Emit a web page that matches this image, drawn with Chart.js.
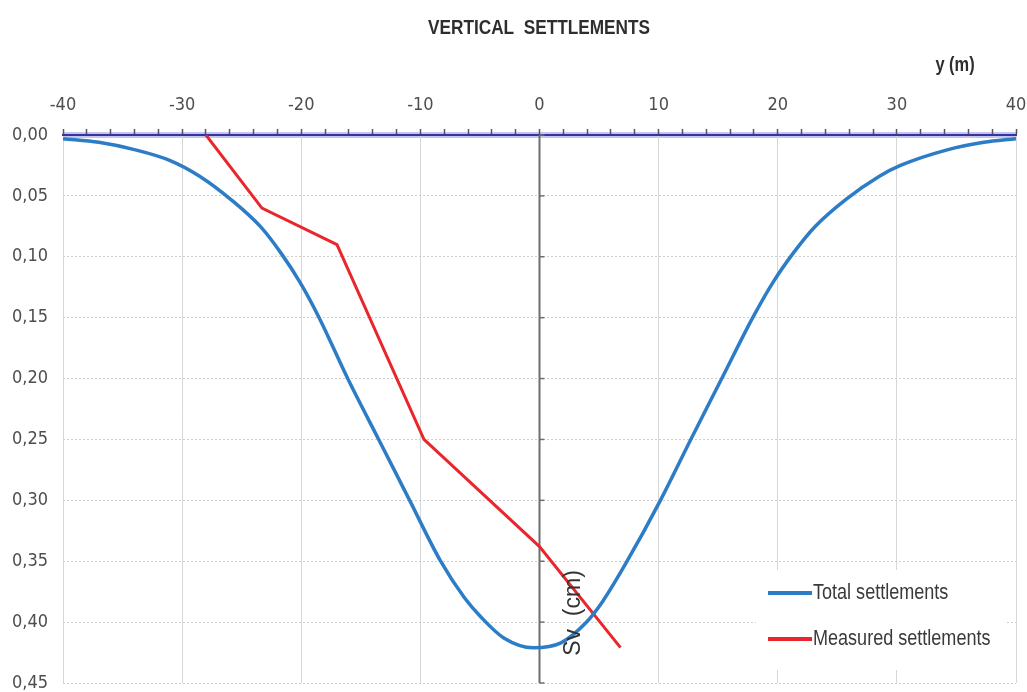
<!DOCTYPE html>
<html>
<head>
<meta charset="utf-8">
<script src="https://cdn.jsdelivr.net/npm/chart.js@4.4.0/dist/chart.umd.min.js"></script>
<style>
  html, body { margin: 0; padding: 0; background: #fff; }
  #caixa { width: 1027px; height: 692px; }
</style>
</head>
<body>
<div id="caixa"><canvas id="graficoRecalques" width="1027" height="692"></canvas></div>
<script>
// distancia ao eixo (m) e recalque calculado (cm)
const totalX = [-40, -37, -34, -31, -28.5, -25.9, -23.4, -21.7, -20.1, -18.5, -16.1, -13.5, -10.9, -8.3, -6.3, -4.9, -3, -0.5,
  1.8, 3.85, 5.3, 7.35, 10.15, 12.7, 15.3, 17.9, 19.6, 21.3, 23.1, 25.7, 28.5, 30.3, 34.3, 37.3, 40];
const totalSv = [0.003, 0.006, 0.012, 0.021, 0.034, 0.053, 0.0755, 0.097, 0.121, 0.15, 0.20, 0.25, 0.30, 0.35, 0.38, 0.396, 0.413, 0.421,
  0.417, 0.401, 0.383, 0.35, 0.30, 0.25, 0.20, 0.15, 0.121, 0.097, 0.0755, 0.053, 0.034, 0.025, 0.012, 0.006, 0.003];

// recalques medidos em campo
const medidoX = [-28, -23.3, -17, -9.7, 0, 6.8];
const medidoSv = [0, 0.06, 0.09, 0.25, 0.338, 0.421];

const nomesSeries = ['Total settlements', 'Measured settlements'];
const coresSeries = ['#2c7cc6', '#ea262c'];

const titulo = 'VERTICAL  SETTLEMENTS';
const tituloEixoX = 'y (m)';
const tituloEixoY = 'Sv  (cm)';

const fonteTicks = "'DejaVu Sans Condensed', 'Liberation Sans', sans-serif";
const fonteNormal = "'Liberation Sans', Arial, sans-serif";

function pontos(xs, ys) {
  return xs.map((x, i) => ({ x: x, y: ys[i] }));
}

// texto "estreito": Liberation Sans comprimida na horizontal
function textoEstreito(ctx, texto, x, y, fonte, alinhamento) {
  ctx.save();
  ctx.font = fonte;
  ctx.textAlign = alinhamento;
  ctx.textBaseline = 'middle';
  ctx.translate(x, y);
  ctx.scale(0.82, 1);
  ctx.fillText(texto, 0, 0);
  ctx.restore();
}

// eixo vertical no y = 0, faixa do eixo superior, legenda e textos
const extras = {
  id: 'extras',
  beforeDraw(chart) {
    const { ctx, chartArea: a } = chart;
    ctx.save();
    ctx.strokeStyle = 'rgba(150, 150, 225, 0.55)';
    ctx.lineWidth = 6;
    ctx.beginPath();
    ctx.moveTo(a.left, a.top);
    ctx.lineTo(a.right, a.top);
    ctx.stroke();
    ctx.restore();
  },
  beforeDatasetsDraw(chart) {
    const { ctx, chartArea: a, scales } = chart;
    const x0 = scales.x.getPixelForValue(0);
    ctx.save();
    ctx.strokeStyle = '#6e6e6e';
    ctx.lineWidth = 2;
    ctx.beginPath();
    ctx.moveTo(x0, a.top);
    ctx.lineTo(x0, a.bottom);
    ctx.stroke();
    ctx.lineWidth = 1.5;
    scales.y.ticks.forEach(t => {
      const py = scales.y.getPixelForValue(t.value);
      ctx.beginPath();
      ctx.moveTo(x0, py);
      ctx.lineTo(x0 + 5, py);
      ctx.stroke();
    });
    ctx.restore();
  },
  afterDatasetsDraw(chart) {
    const { ctx, chartArea: a, scales } = chart;
    ctx.save();

    // legenda
    const lx = a.right - 260, ly = a.bottom - 113;
    ctx.fillStyle = '#fff';
    ctx.fillRect(lx, ly, 250, 100);
    chart.data.datasets.forEach((ds, i) => {
      const yy = ly + 23 + i * 46;
      ctx.strokeStyle = ds.borderColor;
      ctx.lineWidth = 4;
      ctx.beginPath();
      ctx.moveTo(lx + 12, yy);
      ctx.lineTo(lx + 56, yy);
      ctx.stroke();
      ctx.fillStyle = '#3a3a3a';
      textoEstreito(ctx, ds.label, lx + 57, yy, '22px ' + fonteNormal, 'left');
    });

    // titulo do eixo vertical
    const x0 = scales.x.getPixelForValue(0);
    ctx.translate(x0 + 34, 613);
    ctx.rotate(-Math.PI / 2);
    ctx.font = '23px ' + fonteNormal;
    ctx.fillStyle = '#333';
    ctx.textAlign = 'center';
    ctx.textBaseline = 'middle';
    ctx.fillText(tituloEixoY, 0, 0);
    ctx.restore();
  },
  afterDraw(chart) {
    const { ctx } = chart;
    ctx.save();
    ctx.fillStyle = '#2e2e2e';
    textoEstreito(ctx, titulo, 539, 28, 'bold 21px ' + fonteNormal, 'center');
    textoEstreito(ctx, tituloEixoX, 955, 65, 'bold 20px ' + fonteNormal, 'center');
    ctx.restore();
  }
};

const ctx = document.getElementById('graficoRecalques').getContext('2d');

new Chart(ctx, {
  type: 'line',
  data: {
    datasets: [{
      label: nomesSeries[0],
      data: pontos(totalX, totalSv),
      borderColor: coresSeries[0],
      borderWidth: 3.5,
      pointRadius: 0,
      cubicInterpolationMode: 'monotone',
      fill: false
    }, {
      label: nomesSeries[1],
      data: pontos(medidoX, medidoSv),
      borderColor: coresSeries[1],
      borderWidth: 3,
      pointRadius: 0,
      tension: 0,
      fill: false
    }]
  },
  options: {
    responsive: false,
    animation: false,
    devicePixelRatio: 1,
    layout: { padding: { top: 85, right: 11, bottom: 9, left: 0 } },
    plugins: {
      legend: { display: false },
      title: { display: false },
      tooltip: { enabled: false }
    },
    scales: {
      x: {
        type: 'linear',
        position: 'top',
        min: -40,
        max: 40,
        afterFit: s => {
          s.height = 50;
          s.paddingLeft = 12;
          s.paddingRight = 11;
        },
        ticks: {
          stepSize: 2,
          autoSkip: false,
          maxRotation: 0,
          padding: 15,
          color: '#4d4d4d',
          font: { family: fonteTicks, size: 18, lineHeight: 1 },
          callback: v => (Math.round(v) % 10 === 0 ? String(Math.round(v)) : '')
        },
        grid: {
          color: c => (c.tick && Math.round(c.tick.value) % 10 === 0 ? '#d6d6d6' : 'rgba(0,0,0,0)'),
          tickColor: '#555',
          tickLength: 6,
          tickWidth: 1.5
        },
        border: { display: true, color: '#34349a', width: 2 }
      },
      y: {
        type: 'linear',
        reverse: true,
        min: 0,
        max: 0.45,
        afterFit: s => {
          s.width = 63;
          s.paddingTop = 9;
          s.paddingBottom = 9;
        },
        ticks: {
          stepSize: 0.05,
          padding: 15,
          color: '#4d4d4d',
          font: { family: fonteTicks, size: 18, lineHeight: 1 },
          callback: v => v.toFixed(2).replace('.', ',')
        },
        grid: {
          color: '#cfcfcf',
          drawTicks: false,
          borderDash: [2, 2]
        },
        border: { display: false, dash: [2, 2] }
      }
    }
  },
  plugins: [extras]
});
</script>
</body>
</html>
